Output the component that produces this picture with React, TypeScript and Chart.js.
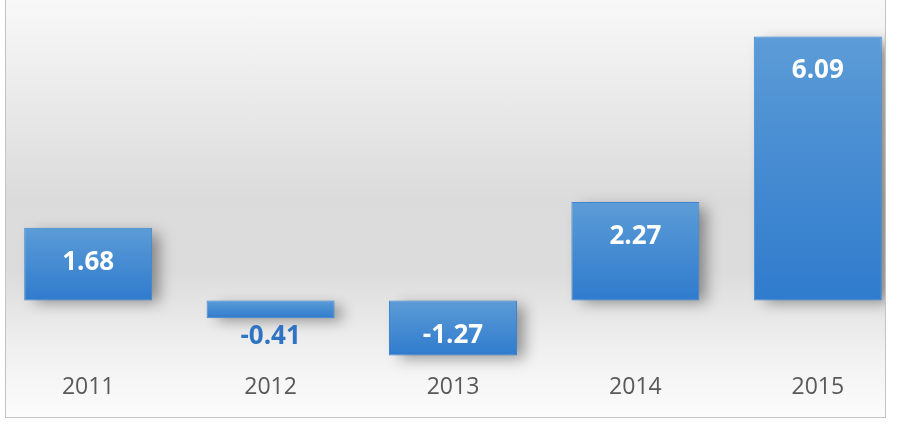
import React, { useEffect, useRef } from "react";
import { Chart, registerables } from "chart.js";

Chart.register(...registerables);

const years: string[] = ["2011", "2012", "2013", "2014", "2015"];
const values: number[] = [1.68, -0.41, -1.27, 2.27, 6.09];
const yMin = -1.5;
const yMax = 6.9;

const FONT = '"Open Sans", "Liberation Sans", sans-serif';

export default function App() {
  const ref = useRef<HTMLCanvasElement>(null);

  useEffect(() => {
    const canvas = ref.current;
    if (!canvas) return;

    // Soft shadow cast by every bar, drawn from the bar elements before they paint.
    const shadowPlugin = {
      id: "barShadow",
      beforeDatasetsDraw(chart: any) {
        const c = chart.ctx;
        const meta = chart.getDatasetMeta(0);
        c.save();
        c.shadowColor = "rgba(0,0,0,0.40)";
        c.shadowBlur = 14;
        c.shadowOffsetX = 9;
        c.shadowOffsetY = 4;
        c.fillStyle = "#3b85d0";
        meta.data.forEach((bar: any) => {
          const { x, y, base, width } = bar.getProps(["x", "y", "base", "width"], true);
          const top = Math.min(y, base);
          const h = Math.abs(base - y);
          c.fillRect(x - width / 2 + 2, top + 2, width - 4, h - 4 > 0 ? h - 4 : h);
        });
        c.restore();
      },
    };

    const labelPlugin = {
      id: "valueLabels",
      afterDatasetsDraw(chart: any) {
        const c = chart.ctx;
        const meta = chart.getDatasetMeta(0);
        c.save();
        c.font = `bold 26px ${FONT}`;
        c.textAlign = "center";
        c.textBaseline = "middle";
        meta.data.forEach((bar: any, i: number) => {
          const v = values[i];
          const { x, y, base } = bar.getProps(["x", "y", "base"], true);
          const h = Math.abs(base - y);
          let ty: number;
          let color = "#ffffff";
          if (v >= 0) ty = y + 34.5;
          else if (h > 36) ty = y - 20;
          else {
            ty = y + 18;
            color = "#2e74c2";
          }
          c.fillStyle = color;
          c.fillText(v.toFixed(2), x, ty);
        });
        c.restore();
      },
    };

    const chart = new Chart(canvas, {
      type: "bar",
      data: {
        labels: years,
        datasets: [
          {
            data: values,
            backgroundColor: (ctx: any) => {
              const ch = ctx.chart;
              const area = ch.chartArea;
              if (!area || ctx.type !== "data") return "#4a8dd3";
              const ys = ch.scales.y;
              const v = ctx.raw as number;
              const top = ys.getPixelForValue(Math.max(v, 0));
              const bot = ys.getPixelForValue(Math.min(v, 0));
              const g = ch.ctx.createLinearGradient(0, top, 0, bot);
              g.addColorStop(0, "#5c9cd7");
              g.addColorStop(1, "#2f7bcd");
              return g;
            },
            borderColor: "#3b85d0",
            borderWidth: 1,
            borderSkipped: false,
            barPercentage: 1,
            categoryPercentage: 0.7018,
          },
        ],
      },
      options: {
        responsive: false,
        maintainAspectRatio: false,
        animation: false,
        events: [],
        devicePixelRatio: 1,
        layout: { padding: { top: 1.4, bottom: 0, left: 0, right: 0 } },
        plugins: {
          legend: { display: false },
          tooltip: { enabled: false },
          title: { display: false },
        },
        scales: {
          x: {
            grid: { display: false, drawTicks: false },
            border: { display: false },
            ticks: {
              color: "#595959",
              font: { family: FONT, size: 23 },
              padding: 8,
            },
            afterFit: (scale: any) => {
              scale.height = 65.5;
            },
          },
          y: {
            display: false,
            min: yMin,
            max: yMax,
          },
        },
      },
      plugins: [shadowPlugin, labelPlugin],
    });

    return () => chart.destroy();
  }, []);

  return (
    <div
      style={{
        position: "fixed",
        left: 0,
        top: 0,
        width: 900,
        height: 431,
        overflow: "hidden",
        background: "#ffffff",
      }}
    >
      <div
        style={{
          position: "absolute",
          left: 5,
          top: -1,
          width: 881,
          height: 419,
          boxSizing: "border-box",
          border: "1px solid #c3c3c3",
          background:
            "linear-gradient(to bottom, #f8f8f8 0%, #dbdbdb 48%, #dcdcdc 65%, #f1f1f1 85%, #fcfcfc 100%)",
        }}
      />
      <div
        style={{
          position: "absolute",
          left: 6,
          top: 0,
          width: 879,
          height: 417,
          overflow: "hidden",
        }}
      >
        <canvas
          ref={ref}
          width={912}
          height={431}
          style={{ position: "absolute", left: -9, top: 0, width: 912, height: 431 }}
        />
      </div>
    </div>
  );
}
